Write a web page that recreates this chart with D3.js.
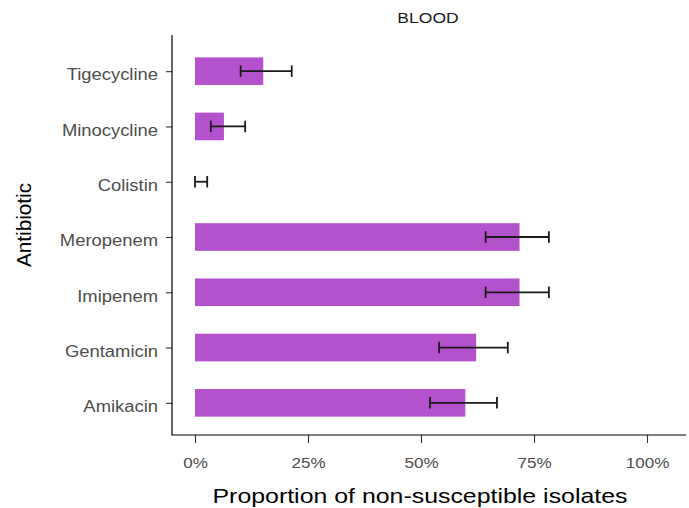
<!DOCTYPE html>
<html>
<head>
<meta charset="utf-8">
<script src="https://cdn.jsdelivr.net/npm/d3@7"></script>
<style>
  html, body { margin: 0; padding: 0; background: #fff; }
  svg { display: block; }
  text { font-family: "Liberation Sans", Arial, sans-serif; }
</style>
</head>
<body>
<svg id="chart" width="689" height="508"></svg>
<script>
// Non-susceptible proportions (%) of blood isolates, with confidence limits
const antibiotics = ["Tigecycline", "Minocycline", "Colistin", "Meropenem", "Imipenem", "Gentamicin", "Amikacin"];
const proportion  = [15.1, 6.4, 0.0, 71.8, 71.8, 62.2, 59.8];
const lowerCI     = [10.1, 3.5, 0.0, 64.3, 64.3, 54.0, 52.0];
const upperCI     = [21.4, 11.1, 2.7, 78.3, 78.3, 69.2, 66.8];
const xTicks      = [0, 25, 50, 75, 100];
const panelTitle  = "BLOOD";
const xTitle      = "Proportion of non-susceptible isolates";
const yTitle      = "Antibiotic";

const rows = antibiotics.map((name, i) => ({
  name, value: proportion[i], lo: lowerCI[i], hi: upperCI[i]
}));

const svg = d3.select("#chart");
const plot = { left: 172, right: 686, top: 35, bottom: 435 };

const x = d3.scaleLinear().domain([0, 100]).range([195, 647]);
const y = d3.scalePoint().domain(antibiotics).range([plot.top + 3, plot.bottom + 1]).padding(0.6);
const barH = y.step() * 0.5;

// bars
svg.append("g").selectAll("rect").data(rows).join("rect")
  .attr("x", x(0))
  .attr("y", d => y(d.name) - barH / 2)
  .attr("width", d => x(d.value) - x(0))
  .attr("height", barH)
  .attr("fill", "#B452CD");

// error bars
const capH = 11.5;
const eb = svg.append("g").attr("stroke", "#1a1a1a").attr("stroke-width", 1.8).attr("fill", "none");
rows.forEach(d => {
  const cy = y(d.name);
  eb.append("line").attr("x1", x(d.lo)).attr("x2", x(d.hi)).attr("y1", cy).attr("y2", cy);
  eb.append("line").attr("x1", x(d.lo)).attr("x2", x(d.lo)).attr("y1", cy - capH / 2).attr("y2", cy + capH / 2);
  eb.append("line").attr("x1", x(d.hi)).attr("x2", x(d.hi)).attr("y1", cy - capH / 2).attr("y2", cy + capH / 2);
});

// axes
const xAxis = svg.append("g").attr("transform", `translate(0,${plot.bottom})`)
  .call(d3.axisBottom(x).tickValues(xTicks).tickFormat(d => d + "%").tickSize(8).tickPadding(14));
const yAxis = svg.append("g").attr("transform", `translate(${plot.left},0)`)
  .call(d3.axisLeft(y).tickSize(6).tickPadding(8));
[xAxis, yAxis].forEach(g => {
  g.select(".domain").remove();
  g.selectAll(".tick line").attr("stroke", "#333").attr("stroke-width", 1.1);
});
svg.append("line").attr("x1", plot.left).attr("x2", plot.left).attr("y1", plot.top).attr("y2", plot.bottom)
  .attr("stroke", "#000").attr("stroke-width", 1.2);
svg.append("line").attr("x1", plot.left - 0.6).attr("x2", plot.right).attr("y1", plot.bottom).attr("y2", plot.bottom)
  .attr("stroke", "#000").attr("stroke-width", 1.2);

// tick labels: slightly wide lettering
function widen(sel, factor) {
  sel.each(function() {
    const w = this.getComputedTextLength();
    d3.select(this).attr("textLength", w * factor).attr("lengthAdjust", "spacingAndGlyphs");
  });
}
xAxis.selectAll(".tick text")
  .attr("font-size", 15.5).attr("fill", "#4d4d4d").attr("font-family", "Liberation Sans, Arial, sans-serif");
widen(xAxis.selectAll(".tick text"), 1.1);
yAxis.selectAll(".tick text")
  .attr("font-size", 16).attr("fill", "#4d4d4d").attr("dy", "0.55em").attr("font-family", "Liberation Sans, Arial, sans-serif");
widen(yAxis.selectAll(".tick text"), 1.15);

// titles
const t1 = svg.append("text").attr("x", 428).attr("y", 23).attr("text-anchor", "middle")
  .attr("font-size", 14).attr("fill", "#1a1a1a").text(panelTitle);
widen(t1, 1.25);

const t2 = svg.append("text").attr("x", 420).attr("y", 503).attr("text-anchor", "middle")
  .attr("font-size", 21).attr("fill", "#000").text(xTitle);
t2.attr("textLength", 415).attr("lengthAdjust", "spacingAndGlyphs");

const t3 = svg.append("text").attr("transform", "translate(31,225) rotate(-90)").attr("text-anchor", "middle")
  .attr("font-size", 21).attr("fill", "#000").text(yTitle);
t3.attr("textLength", 84).attr("lengthAdjust", "spacingAndGlyphs");
</script>
</body>
</html>
